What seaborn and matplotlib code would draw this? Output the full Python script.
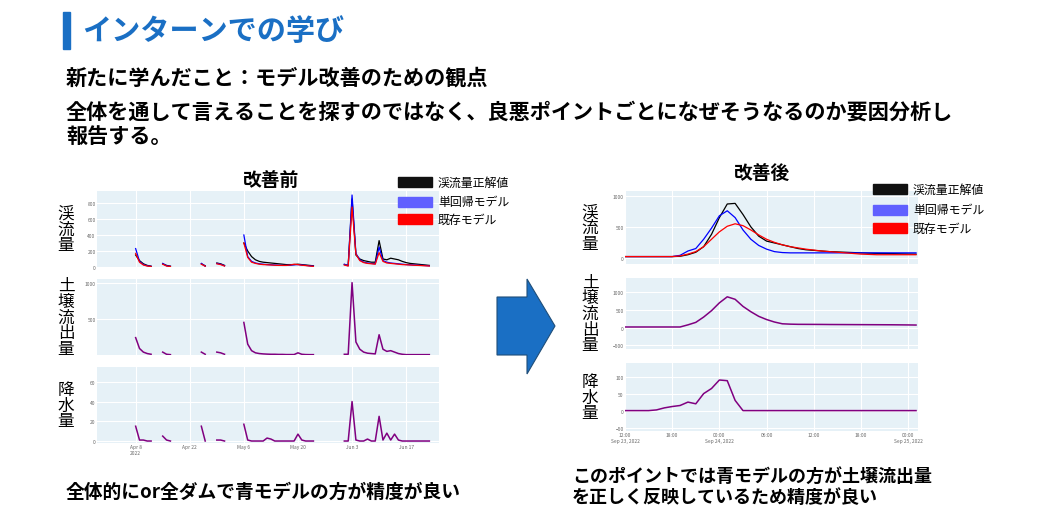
import numpy as np
import pandas as pd
import matplotlib.pyplot as plt
import seaborn as sns
from matplotlib.patches import Polygon, Rectangle

plt.rcParams['font.family'] = 'Noto Sans CJK JP'
nan = np.nan

# ---- before (daily, from 2022-03-29) ----
before_days = pd.date_range('2022-03-29', periods=89, freq='D')
obs_before = [nan]*10 + [150, 80, 40, 20, 10, nan, nan, 40, 20, 10] + [nan]*7 + [40, 15, nan, nan, 50, 40, 20] + [nan]*4 + \
    [300, 200, 130, 90, 70, 60, 55, 50, 45, 40, 35, 30, 30, 30, 35, 30, 25, 20, 15] + [nan]*7 + \
    [30, 20, 850, 150, 100, 80, 70, 60, 60, 330, 100, 90, 110, 100, 90, 70, 55, 45, 40, 35, 30, 25, 20, nan, nan]
blue_before = [nan]*10 + [230, 70, 30, 15, 8, nan, nan, 45, 15, 8] + [nan]*7 + [45, 10, nan, nan, 45, 35, 15] + [nan]*4 + \
    [400, 130, 70, 50, 40, 35, 30, 28, 25, 22, 20, 20, 22, 28, 30, 25, 20, 15, 10] + [nan]*7 + \
    [35, 15, 900, 170, 90, 60, 50, 45, 40, 250, 80, 60, 50, 45, 40, 35, 30, 28, 25, 22, 20, 18, 15, nan, nan]
red_before = [nan]*10 + [170, 60, 25, 12, 6, nan, nan, 35, 12, 6] + [nan]*7 + [35, 10, nan, nan, 40, 30, 12] + [nan]*4 + \
    [300, 120, 60, 45, 35, 30, 28, 25, 22, 20, 20, 20, 25, 35, 30, 22, 18, 12, 8] + [nan]*7 + \
    [25, 12, 750, 160, 80, 55, 45, 40, 35, 180, 70, 50, 45, 40, 35, 30, 28, 25, 22, 20, 18, 15, 12, nan, nan]
soil_before = [nan]*10 + [240, 90, 40, 20, 10, nan, nan, 40, 10, 5] + [nan]*7 + [40, 10, nan, nan, 40, 30, 10] + [nan]*4 + \
    [450, 150, 60, 30, 20, 15, 12, 10, 10, 8, 8, 6, 6, 6, 30, 10, 6, 5, 5] + [nan]*7 + \
    [10, 10, 1000, 180, 80, 40, 25, 20, 15, 280, 80, 50, 60, 40, 20, 10, 5, 5, 5, 5, 5, 5, 5, nan, nan]
rain_before = [nan]*10 + [15, 1, 1, 0, 0, nan, nan, 5, 1, 0] + [nan]*7 + [15, 0, nan, nan, 1, 1, 0] + [nan]*4 + \
    [17, 1, 0, 0, 0, 0, 3, 2, 0, 0, 0, 0, 0, 0, 7, 1, 0, 0, 0] + [nan]*7 + \
    [0, 0, 40, 1, 0, 0, 2, 0, 0, 25, 1, 8, 1, 7, 1, 0, 0, 0, 0, 0, 0, 0, 0, nan, nan]

# ---- after (hourly, from 2022-09-23 12:00) ----
after_hours = pd.date_range('2022-09-23 12:00', periods=38, freq='h')
obs_after = [20]*7 + [25, 50, 90, 180, 380, 650, 870, 880, 700, 500, 350, 270, 240, 210, 180, 150, 130, 120, 110, 100,
                      95, 90, 85, 80, 75, 72, 70, 68, 65, 62, 60]
blue_after = [20]*7 + [40, 110, 150, 300, 480, 680, 760, 650, 450, 300, 200, 140, 100, 85] + [80]*17
red_after = [20]*7 + [30, 60, 100, 180, 300, 420, 510, 550, 520, 450, 370, 300, 250, 210, 180, 160, 140, 125, 110,
                      100, 90, 80, 70, 60, 55] + [50]*6
soil_after = [20]*8 + [80, 150, 300, 480, 700, 870, 800, 600, 450, 320, 230, 160, 110, 100,
                       95, 94, 93, 92, 90, 89, 88, 87, 86, 85, 84, 83, 82, 80, 78, 75]
rain_after = [0, 0, 0, 0, 2, 8, 12, 15, 25, 20, 50, 65, 90, 88, 30] + [0]*23

W, H = 1040, 510
fig = plt.figure(figsize=(W/100, H/100), dpi=100)


def ax_px(x0, y0, x1, y1):
    return fig.add_axes([x0/W, 1-y1/H, (x1-x0)/W, (y1-y0)/H])


def style(ax, ylim, yticks, fs=3.5):
    ax.set_facecolor('#e6f1f7')
    ax.grid(True, color='white', lw=0.8)
    for s in ax.spines.values():
        s.set_visible(False)
    ax.set_ylim(*ylim)
    ax.set_yticks(yticks)
    ax.tick_params(labelsize=fs, length=0, colors='#666666', pad=1)
    ax.set_xlabel('')
    ax.set_ylabel('')


def draw_line(ax, times, vals, c, lw):
    df = pd.DataFrame({'t': times, 'v': vals})
    df['seg'] = df['v'].isna().cumsum()  # break line at gaps
    df = df.dropna()
    sns.lineplot(data=df, x='t', y='v', units='seg', estimator=None, color=c, lw=lw, ax=ax)


def panel(x0, y0, x1, y1, times, series, ylim, yticks, label, lx, show_x, xticks, xlabels, xlim):
    ax = ax_px(x0, y0, x1, y1)
    for vals, c in series:
        draw_line(ax, times, vals, c, 0.9 if len(series) > 1 else 1.1)
    style(ax, ylim, yticks)
    ax.set_xlim(*xlim)
    ax.set_xticks(xticks)
    ax.set_xticklabels(xlabels if show_x else [])
    fig.text(lx/W, 1-(y0+y1)/2/H, '\n'.join(label), fontsize=12, ha='center', va='center', linespacing=0.9)
    return ax


bxl = (before_days[0], before_days[-1] + pd.Timedelta(days=0.5))
bxt = pd.to_datetime(['2022-04-08', '2022-04-22', '2022-05-06', '2022-05-20', '2022-06-03', '2022-06-17'])
bxlab = ['Apr 8\n2022', 'Apr 22', 'May 6', 'May 20', 'Jun 3', 'Jun 17']
panel(97, 192, 439, 268, before_days, [(obs_before, 'black'), (blue_before, 'blue'), (red_before, 'red')],
      (0, 950), [0, 200, 400, 600, 800], '渓流量', 66, False, bxt, bxlab, bxl)
panel(97, 280, 439, 356, before_days, [(soil_before, 'purple')], (0, 1050), [500, 1000], '土壌流出量', 66, False, bxt, bxlab, bxl)
panel(97, 368, 439, 444, before_days, [(rain_before, 'purple')], (-2, 75), [0, 20, 40, 60], '降水量', 66, True, bxt, bxlab, bxl)

axl = (after_hours[0], after_hours[-1] + pd.Timedelta(minutes=15))
axt = pd.date_range('2022-09-23 12:00', periods=7, freq='6h')
axlab = ['12:00\nSep 23, 2022', '18:00', '00:00\nSep 24, 2022', '06:00', '12:00', '18:00', '00:00\nSep 25, 2022']
panel(625, 192, 918, 265, after_hours, [(obs_after, 'black'), (blue_after, 'blue'), (red_after, 'red')],
      (-100, 1080), [0, 500, 1000], '渓流量', 590, False, axt, axlab, axl)
panel(625, 279, 918, 350, after_hours, [(soil_after, 'purple')], (-600, 1400), [-500, 0, 500, 1000], '土壌流出量', 590, False, axt, axlab, axl)
panel(625, 364, 918, 432, after_hours, [(rain_after, 'purple')], (-60, 140), [-50, 0, 50, 100], '降水量', 590, True, axt, axlab, axl)

# legends
for x0, ys in [(398, (183, 203, 220)), (873, (190, 211, 229))]:
    for y, c, t in zip(ys, ['#111111', '#6060ff', '#ff0000'], ['渓流量正解値', '単回帰モデル', '既存モデル']):
        fig.patches.append(Rectangle((x0/W, 1-(y+5)/H), 34/W, 10/H, color=c, transform=fig.transFigure))
        fig.text((x0+40)/W, 1-y/H, t, fontsize=8.6, va='center')

# titles and texts
fig.patches.append(Rectangle((63/W, 1-50/H), 7/W, 37/H, color='#1a6fc4', transform=fig.transFigure))
fig.text(82/W, 1-31/H, 'インターンでの学び', fontsize=21, weight='bold', color='#1a6fc4', va='center')
fig.text(66/W, 1-78/H, '新たに学んだこと：モデル改善のための観点', fontsize=15.2, weight='bold', va='center')
fig.text(66/W, 1-112/H, '全体を通して言えることを探すのではなく、良悪ポイントごとになぜそうなるのか要因分析し', fontsize=15.2, weight='bold', va='center')
fig.text(66/W, 1-136/H, '報告する。', fontsize=15.2, weight='bold', va='center')
fig.text(271/W, 1-180/H, '改善前', fontsize=13.5, weight='bold', ha='center', va='center')
fig.text(762/W, 1-174/H, '改善後', fontsize=13.5, weight='bold', ha='center', va='center')
fig.text(66/W, 1-492/H, '全体的にor全ダムで青モデルの方が精度が良い', fontsize=13.5, weight='bold', va='center')
fig.text(572/W, 1-477/H, 'このポイントでは青モデルの方が土壌流出量', fontsize=13, weight='bold', va='center')
fig.text(572/W, 1-497/H, 'を正しく反映しているため精度が良い', fontsize=13, weight='bold', va='center')

# arrow
pts = [(497, 298), (527, 298), (527, 280), (555, 327), (527, 375), (527, 356), (497, 356)]
fig.patches.append(Polygon([(x/W, 1-y/H) for x, y in pts], closed=True, facecolor='#1a6fc4',
                           edgecolor='#1f4e79', lw=0.8, transform=fig.transFigure))

fig.savefig('out.png', dpi=100)
